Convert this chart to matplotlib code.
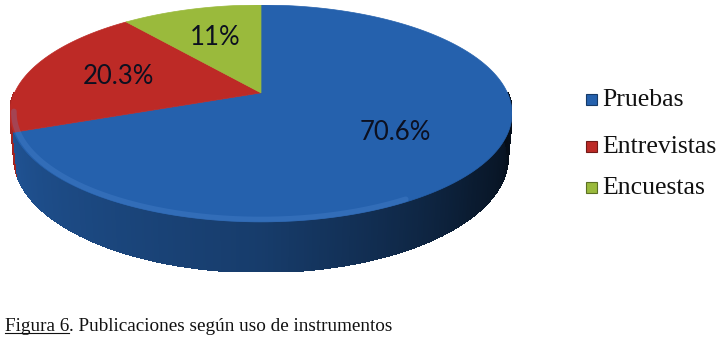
import numpy as np
import matplotlib.pyplot as plt
from matplotlib.patches import Polygon, Rectangle
from matplotlib.collections import PolyCollection
from matplotlib.lines import Line2D
from matplotlib.colors import to_rgb

# datos del grafico
categorias = ['Pruebas', 'Entrevistas', 'Encuestas']
valores = [70.6, 20.3, 11]
etiquetas = ['70.6%', '20.3%', '11%']
colores = ['#2561ad', '#bd2a26', '#9aba3c']
titulo = 'Publicaciones según uso de instrumentos'

# proyeccion en perspectiva de un disco (pie 3D)
elev = np.radians(24.5)
ce, se = np.cos(elev), np.sin(elev)
dist = 4.8
grosor = 0.19


def proj(x, y, z=0.0):
    depth = dist + y * ce - z * se
    return x / depth, (y * se + z * ce) / depth


def color_wedge(theta, limites):
    for i, (a0, a1) in enumerate(limites):
        t = theta
        while t < a0:
            t += 360
        if a0 <= t < a1:
            return i
    return 0


# angulos: empieza en 90 grados, sentido antihorario (Encuestas, Entrevistas, Pruebas)
orden = [2, 1, 0]
total = sum(valores)
limites = [None] * 3
ang = 90.0
for i in orden:
    span = valores[i] / total * 360
    limites[i] = (ang, ang + span)
    ang += span

fig = plt.figure(figsize=(7.2, 3.41), dpi=100)
ax = fig.add_axes([10 / 720, 69 / 341, 502 / 720, 267 / 341])
ax.axis('off')

todos = []
# lateral (solo la parte frontal)
th = np.arange(180, 360.5, 0.5)
polys, cols = [], []
for k in range(len(th) - 1):
    t0, t1 = np.radians(th[k]), np.radians(th[k + 1])
    pts = [proj(np.cos(t0), np.sin(t0)), proj(np.cos(t1), np.sin(t1)),
           proj(np.cos(t1), np.sin(t1), -grosor), proj(np.cos(t0), np.sin(t0), -grosor)]
    todos += pts
    tm = 0.5 * (th[k] + th[k + 1])
    idx = color_wedge(tm, limites)
    f = np.interp(tm, [180, 200, 270, 320, 360], [0.9, 0.85, 0.62, 0.28, 0.12])
    polys.append(pts)
    cols.append(np.array(to_rgb(colores[idx])) * f)
ax.add_collection(PolyCollection(polys, facecolors=cols, edgecolors=cols,
                                 linewidths=1.0, antialiaseds=False, zorder=1))

# cara superior
for i in range(3):
    a0, a1 = limites[i]
    tt = np.radians(np.linspace(a0, a1, 200))
    pts = [proj(0, 0)] + [proj(np.cos(t), np.sin(t)) for t in tt]
    todos += pts
    ax.add_patch(Polygon(pts, closed=True, fc=colores[i], ec=colores[i], lw=0.5, zorder=2))

# brillo suave en el borde frontal
tt = np.radians(np.linspace(190, 300, 200))
borde = np.array([proj(0.985 * np.cos(t), 0.985 * np.sin(t)) for t in tt])
ax.plot(borde[:, 0], borde[:, 1], color='#5a92dc', lw=4, alpha=0.25, zorder=3,
        solid_capstyle='round')

todos = np.array(todos)
ax.set_xlim(todos[:, 0].min(), todos[:, 0].max())
ax.set_ylim(todos[:, 1].min(), todos[:, 1].max())

# etiquetas de porcentaje
for i in range(3):
    a0, a1 = limites[i]
    tm = np.radians(0.5 * (a0 + a1))
    r = 0.62
    px, py = proj(r * np.cos(tm), r * np.sin(tm))
    ax.text(px, py, etiquetas[i], ha='center', va='center', fontsize=18.5,
            family='Lato', color='#0c1020', zorder=5)

# leyenda manual
y_ley = [241, 194, 153]
for i in range(3):
    yf = y_ley[i] / 341
    fig.patches.append(Rectangle((586 / 720, yf - 5 / 341), 11 / 720, 11 / 341,
                                 transform=fig.transFigure, fc=colores[i],
                                 ec=np.array(to_rgb(colores[i])) * 0.6, lw=0.8))
    fig.text(602 / 720, yf, categorias[i], fontsize=18.5, family='Liberation Serif',
             va='center', ha='left', color='#111111')

# pie de figura
t1 = fig.text(5 / 720, 10 / 341, 'Figura 6', fontsize=13.8, family='Liberation Serif',
              va='baseline', ha='left', color='#111111')
r = fig.canvas.get_renderer()
bb = t1.get_window_extent(renderer=r)
fig.add_artist(Line2D([bb.x0 / 720, bb.x1 / 720], [8 / 341, 8 / 341],
                      transform=fig.transFigure, color='#111111', lw=0.8))
fig.text(bb.x1 / 720, 10 / 341, '. ' + titulo, fontsize=13.8, family='Liberation Serif',
         va='baseline', ha='left', color='#111111')

fig.savefig('out.png', dpi=100)
